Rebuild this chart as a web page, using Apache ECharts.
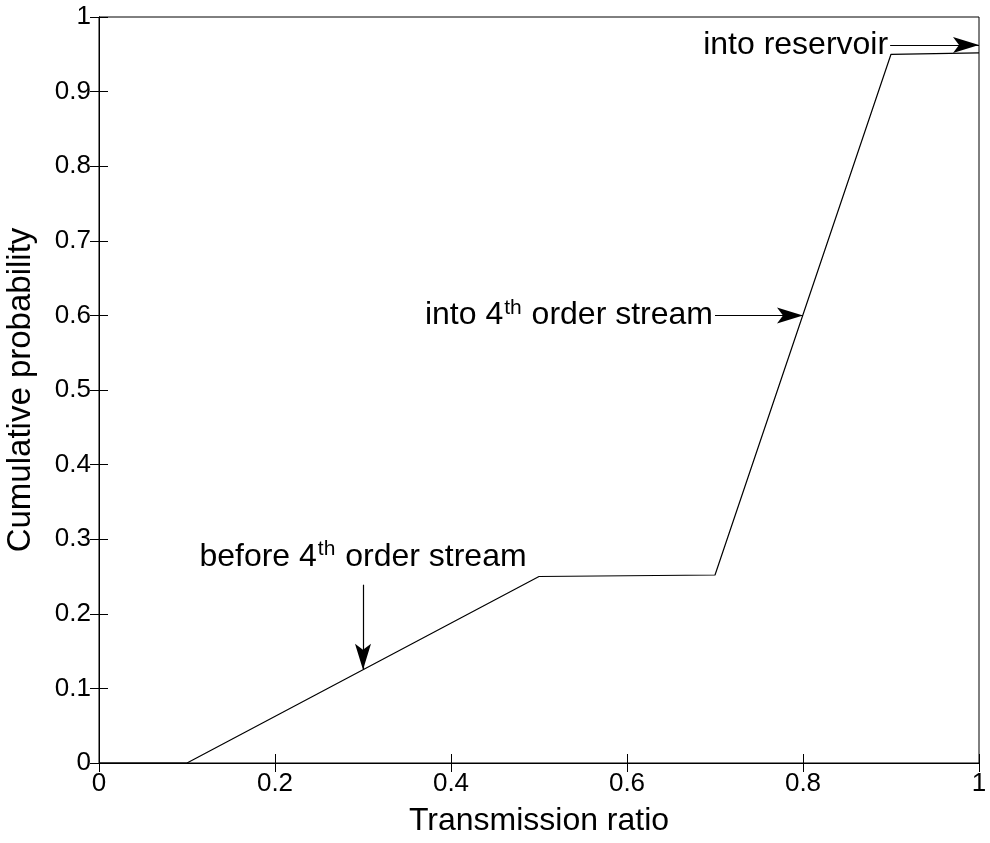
<!DOCTYPE html>
<html>
<head>
<meta charset="utf-8">
<script src="https://cdn.jsdelivr.net/npm/echarts@6/dist/echarts.min.js"></script>
<style>
  html, body { margin: 0; padding: 0; background: #fff; }
  #chart { width: 990px; height: 843px; }
</style>
</head>
<body>
<div id="chart"></div>
<script>
// Cumulative distribution of the transmission ratio (piecewise linear)
var ratio = [0, 0.1, 0.5, 0.7, 0.9, 1.0];
var cumProb = [0, 0, 0.25, 0.252, 0.95, 0.952];

// Annotation arrows in data units (tail -> head)
var arrowTails = [[0.899, 0.9625], [0.70, 0.60], [0.30, 0.239]];
var arrowHeads = [[1.0, 0.9625], [0.80, 0.60], [0.30, 0.125]];

// Annotation captions, anchored at the arrow tails
var noteTexts = ['into reservoir', 'into 4{sup|th} order stream', 'before 4{sup|th} order stream'];
var notePositions = ['left', 'left', 'top'];

var xTicks = ['0', '0.2', '0.4', '0.6', '0.8', '1'];

var FONT = 'Liberation Sans, Arial, sans-serif';
// narrow arrowhead with a notched back, pointing up; the empty sub-path above
// makes the bounding box symmetric about the tip so the tip sits on the end point
var ARROW = 'path://M8,-26 L8.001,-26 Z M8,0 L16,26 L8,20 L0,26 Z';

var chart = echarts.init(document.getElementById('chart'));

var linePoints = ratio.map(function (x, i) { return [x, cumProb[i]]; });

var arrowData = arrowTails.map(function (t, i) {
  return [{ coord: t }, { coord: arrowHeads[i] }];
});

var richStyle = {
  sup: { fontFamily: FONT, fontSize: 21, color: '#000', verticalAlign: 'top', lineHeight: 21, padding: [0, 1, 0, 1] }
};

var noteData = arrowTails.map(function (t, i) {
  return {
    value: t,
    label: {
      show: true,
      formatter: noteTexts[i],
      position: notePositions[i],
      distance: notePositions[i] === 'top' ? 10 : 2,
      color: '#000',
      fontFamily: FONT,
      fontSize: 32,
      lineHeight: 36,
      rich: richStyle
    }
  };
});

var axisCommon = {
  type: 'value', min: 0, max: 1,
  axisLine: { show: true, lineStyle: { color: '#000', width: 1 } },
  axisTick: { show: true, inside: true, length: 9, lineStyle: { color: '#000' } },
  splitLine: { show: false }
};

chart.setOption({
  animation: false,
  backgroundColor: '#fff',
  grid: {
    left: 99, right: 11, top: 17, bottom: 80,
    outerBoundsMode: 'none', containLabel: false,
    show: true, borderColor: '#000', borderWidth: 1
  },
  xAxis: [
    Object.assign({}, axisCommon, {
      interval: 0.2, position: 'bottom',
      name: 'Transmission ratio', nameLocation: 'middle', nameGap: 42,
      nameTextStyle: { fontFamily: FONT, fontSize: 32, color: '#000' },
      axisLabel: {
        margin: 8, fontFamily: FONT, fontSize: 26, color: '#000',
        formatter: function (v) { return xTicks[Math.round(v / 0.2)]; }
      }
    }),
    Object.assign({}, axisCommon, { interval: 0.2, position: 'top', axisLabel: { show: false } })
  ],
  yAxis: [
    Object.assign({}, axisCommon, {
      interval: 0.1, position: 'left',
      name: 'Cumulative probability', nameLocation: 'middle', nameGap: 62,
      nameTextStyle: { fontFamily: FONT, fontSize: 33, color: '#000' },
      axisLabel: {
        margin: 8, fontFamily: FONT, fontSize: 26, color: '#000',
        formatter: function (v) { return String(Math.round(v * 10) / 10); }
      }
    }),
    Object.assign({}, axisCommon, { interval: 0.1, position: 'right', axisLabel: { show: false } })
  ],
  series: [
    {
      type: 'line',
      data: linePoints,
      showSymbol: false,
      lineStyle: { color: '#000', width: 1.2 },
      markLine: {
        silent: true,
        symbol: ['none', ARROW],
        symbolSize: 52,
        symbolKeepAspect: true,
        label: { show: false },
        itemStyle: { color: '#000' },
        lineStyle: { color: '#000', width: 1.2, type: 'solid' },
        data: arrowData
      }
    },
    {
      type: 'scatter',
      data: noteData,
      symbolSize: 0,
      itemStyle: { opacity: 1 },
      silent: true,
      z: 5
    }
  ]
});
</script>
</body>
</html>
